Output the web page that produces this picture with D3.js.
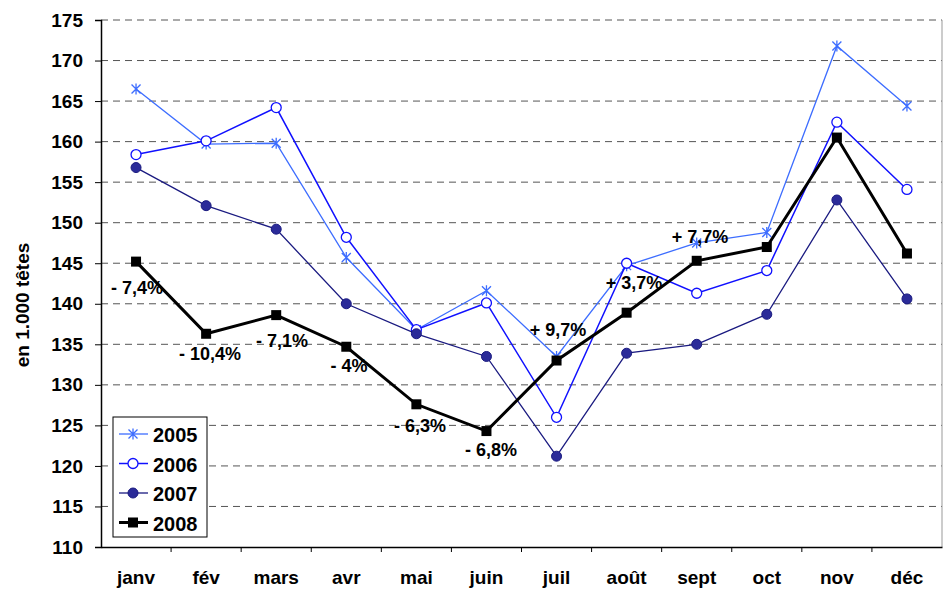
<!DOCTYPE html>
<html lang="fr">
<head>
<meta charset="utf-8">
<title>Abattages</title>
<script src="https://cdn.jsdelivr.net/npm/d3@7"></script>
<style>
  body { margin: 0; background: #fff; }
  text { font-family: Arial, "Liberation Sans", sans-serif; font-weight: bold; }
  .grid line { stroke: #555; stroke-dasharray: 7,5; }
</style>
</head>
<body>
<script>
var months = ["janv", "fév", "mars", "avr", "mai", "juin", "juil", "août", "sept", "oct", "nov", "déc"];
var yTicks = [110, 115, 120, 125, 130, 135, 140, 145, 150, 155, 160, 165, 170, 175];
var v2005 = [166.5, 159.7, 159.8, 145.7, 136.8, 141.6, 133.5, 144.7, 147.5, 148.8, 171.8, 164.4];
var v2006 = [158.4, 160.1, 164.2, 148.2, 136.8, 140.1, 126.0, 145.0, 141.3, 144.1, 162.4, 154.1];
var v2007 = [156.8, 152.1, 149.2, 140.0, 136.3, 133.5, 121.2, 133.9, 135.0, 138.7, 152.8, 140.6];
var v2008 = [145.2, 136.3, 138.6, 134.7, 127.6, 124.3, 133.0, 138.9, 145.3, 147.0, 160.5, 146.2];
var pctLabels = ["- 7,4%", "- 10,4%", "- 7,1%", "- 4%", "- 6,3%", "- 6,8%", "+ 9,7%", "+ 3,7%", "+ 7,7%"];

var w = 944, h = 591;
var pLeft = 101, pRight = 942, pTop = 20, pBottom = 547;

var svg = d3.select("body").append("svg").attr("width", w).attr("height", h);

var x = d3.scaleBand().domain(months).range([pLeft, pRight]);
var y = d3.scaleLinear().domain([110, 175]).range([pBottom, pTop]);
function cx(i) { return x(months[i]) + x.bandwidth() / 2; }

// gridlines
svg.append("g").attr("class", "grid")
  .selectAll("line").data(yTicks.filter(function(d) { return d > 110; }))
  .enter().append("line")
  .attr("x1", pLeft).attr("x2", pRight)
  .attr("y1", function(d) { return y(d); }).attr("y2", function(d) { return y(d); });

// right border
svg.append("line").attr("x1", pRight).attr("x2", pRight).attr("y1", pTop).attr("y2", pBottom)
  .attr("stroke", "#999");

// y axis
var yAxis = d3.axisLeft(y).tickValues(yTicks).tickSize(6).tickPadding(12);
var gy = svg.append("g").attr("transform", "translate(" + pLeft + ",0)").call(yAxis);
gy.select(".domain").attr("stroke", "#000").attr("stroke-width", 1.5);
gy.selectAll("text").attr("font-size", "19px").attr("fill", "#000");

// x axis
var xAxis = d3.axisBottom(x).tickSize(0).tickPadding(24);
var gx = svg.append("g").attr("transform", "translate(0," + pBottom + ")").call(xAxis);
gx.select(".domain").attr("stroke", "#000").attr("stroke-width", 1.5);
gx.selectAll("text").attr("font-size", "19px").attr("fill", "#000");
svg.append("g").selectAll("line").data(months.slice(1))
  .enter().append("line")
  .attr("x1", function(d) { return x(d); }).attr("x2", function(d) { return x(d); })
  .attr("y1", pBottom).attr("y2", pBottom + 5)
  .attr("stroke", "#000");

// y title
svg.append("text")
  .attr("transform", "translate(29,305) rotate(-90)")
  .attr("text-anchor", "middle")
  .attr("font-size", "19px")
  .text("en 1.000 têtes");

var line = d3.line().x(function(d, i) { return cx(i); }).y(function(d) { return y(d); });

var series = [
  { name: "2005", values: v2005, color: "#3d6dff", width: 1.3, marker: "star" },
  { name: "2006", values: v2006, color: "#1010ff", width: 1.5, marker: "open" },
  { name: "2007", values: v2007, color: "#1a1a80", width: 1.3, marker: "dot" },
  { name: "2008", values: v2008, color: "#000", width: 3, marker: "square" }
];

function drawMarker(g, s, px, py) {
  if (s.marker === "star") {
    var r = 4.5;
    g.append("path")
      .attr("d", "M" + (px - r) + "," + (py - r) + "L" + (px + r) + "," + (py + r) +
                 "M" + (px + r) + "," + (py - r) + "L" + (px - r) + "," + (py + r) +
                 "M" + px + "," + (py - r - 1) + "L" + px + "," + (py + r + 1))
      .attr("stroke", s.color).attr("stroke-width", 1.3);
  } else if (s.marker === "open") {
    g.append("circle").attr("cx", px).attr("cy", py).attr("r", 5)
      .attr("fill", "#fff").attr("stroke", s.color).attr("stroke-width", 1.3);
  } else if (s.marker === "dot") {
    g.append("circle").attr("cx", px).attr("cy", py).attr("r", 5)
      .attr("fill", "#2b2b99").attr("stroke", s.color).attr("stroke-width", 1);
  } else {
    g.append("rect").attr("x", px - 5).attr("y", py - 5).attr("width", 10).attr("height", 10)
      .attr("fill", "#000");
  }
}

series.forEach(function(s) {
  var g = svg.append("g");
  g.append("path").datum(s.values)
    .attr("d", line).attr("fill", "none")
    .attr("stroke", s.color).attr("stroke-width", s.width);
  s.values.forEach(function(v, i) { drawMarker(g, s, cx(i), y(v)); });
});

// percentage labels
var labelPos = [[137, 294], [210, 360], [282, 347], [349, 372], [420, 432], [491, 456], [558, 336], [634, 289], [700, 243]];
svg.append("g").selectAll("text").data(pctLabels)
  .enter().append("text")
  .attr("x", function(d, i) { return labelPos[i][0]; })
  .attr("y", function(d, i) { return labelPos[i][1]; })
  .attr("text-anchor", "middle")
  .attr("font-size", "18px")
  .text(function(d) { return d; });

// legend
var lg = svg.append("g");
lg.append("rect").attr("x", 113).attr("y", 417).attr("width", 94).attr("height", 120)
  .attr("fill", "#fff").attr("stroke", "#000").attr("stroke-width", 1);
series.forEach(function(s, i) {
  var ly = 434 + i * 29.5;
  lg.append("line").attr("x1", 119).attr("x2", 148).attr("y1", ly).attr("y2", ly)
    .attr("stroke", s.color).attr("stroke-width", s.width);
  drawMarker(lg, s, 133, ly);
  lg.append("text").attr("x", 153).attr("y", ly + 8).attr("font-size", "20px").text(s.name);
});
</script>
</body>
</html>
